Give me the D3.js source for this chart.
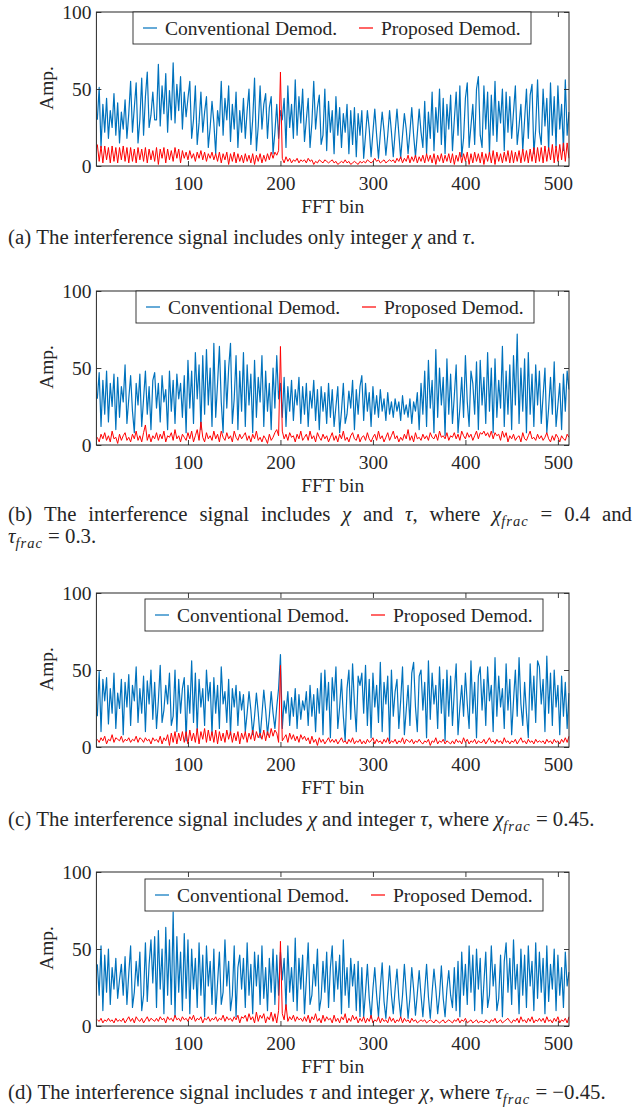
<!DOCTYPE html>
<html><head><meta charset="utf-8">
<script src="https://cdn.jsdelivr.net/npm/d3@7"></script>
<style>
body{margin:0;background:#fff}
svg text{font-family:"Liberation Serif","Times New Roman",serif;fill:#262626}
</style></head><body>
<svg id="chart" width="636" height="1111"></svg>
<script>
const bins = d3.range(2, 513, 2);
const xTicks = [100,200,300,400,500];
const yTicks = [0,50,100];
const seriesNames = ["Conventional Demod.","Proposed Demod."];
const xLabel = "FFT bin", yLabel = "Amp.";

const convA = [30,51,12,40,22,44,18,36,25,47,20,41,15,35,24,43, 18,34,55,22,38,54,15,30,57,20,45,61,25,33,48,30,
 30,66,26,52,34,60,22,49,30,67,28,53,36,58,24,48, 32,44,55,18,30,52,14,28,48,22,35,45,12,25,42,28,
 8,36,26,55,20,44,30,52,16,40,24,48,12,36,22,44, 18,36,50,14,30,57,10,26,52,24,40,47,18,38,45,8,
 22,40,18,36,30,44,12,52,25,40,18,56,20,45,28,50, 16,30,44,12,28,55,24,38,46,14,20,50,10,42,22,36,
 8,45,20,38,12,34,22,40,8,36,14,38,6,34,20,36, 5,20,36,24,6,22,37,20,5,21,35,23,7,20,36,22,
 6,22,37,21,5,20,34,24,8,22,38,20,6,21,37,22, 12,42,8,35,18,48,10,38,22,50,14,44,8,40,24,46,
 10,30,48,20,52,6,18,44,54,12,26,40,14,50,58,20, 12,52,24,48,8,46,20,55,16,42,28,50,10,48,22,45,
 18,35,52,14,26,40,10,30,50,18,46,53,8,24,56,22, 14,50,26,44,10,54,20,45,12,52,24,40,10,56,20,35];
const propA = [14,3,13,2,13,4,12,2,13,3,12,2,12,4,13,3, 12,2,12,3,11,2,12,4,11,3,12,2,11,4,10,3,
 12,1,11,5,12,2,11,4,10,3,12,5,11,2,10,5, 9,4,10,5,8,3,9,5,10,4,9,3,8,5,9,4,
 8,3,9,2,8,4,9,1,8,3,9,2,8,3,7,2, 8,3,7,2,8,1,7,3,8,2,7,3,8,4,9,5,
 9,7,10,61,5,2,6,3,5,2,4,3,5,2,4,3, 4,2,5,3,4,1,3,2,4,3,2,4,3,2,3,4,
 2,3,1,2,3,2,4,2,3,1,2,3,2,1,3,2, 3,2,4,3,2,3,5,3,4,2,3,4,2,3,4,3,
 4,2,5,3,6,2,5,3,7,2,6,3,7,2,6,3, 7,2,8,3,7,2,8,1,7,3,8,2,7,3,8,2,
 8,1,7,3,9,2,8,3,9,1,8,2,9,3,8,2, 9,1,8,3,9,2,10,1,9,3,8,2,9,3,10,2,
 10,2,9,3,10,2,11,3,10,2,11,3,12,2,12,3, 12,2,13,3,12,4,14,2,13,3,14,4,15,3,15,5];

const convB = [30,47,12,42,20,48,15,40,25,46,10,44,18,38,28,52, 14,30,45,22,8,40,26,46,12,30,48,20,38,10,42,47,
 24,40,15,45,28,36,10,48,22,42,14,46,30,40,18,45, 8,55,24,48,14,60,30,52,10,58,20,62,26,50,12,66,
 18,40,64,28,8,55,24,50,66,14,30,58,10,48,22,60, 12,52,26,46,8,55,18,44,28,58,12,48,22,40,10,50,
 24,58,30,40,18,44,12,38,22,42,16,36,26,44,14,38, 20,40,12,35,24,42,16,36,10,38,22,34,14,40,18,36,
 12,25,38,8,22,40,14,20,35,24,42,10,36,20,38,45, 16,40,22,34,12,38,20,32,18,36,22,30,16,34,20,28,
 18,30,22,28,16,32,20,26,18,30,14,28,22,34,10,40, 20,48,12,55,24,42,8,62,18,50,26,44,6,56,20,46,
 14,32,52,8,24,44,18,58,28,12,48,40,20,54,10,55, 26,44,14,60,22,50,8,56,18,42,24,64,12,48,20,52,
 10,58,26,72,14,50,22,56,8,60,20,46,12,52,26,48, 14,32,50,8,24,44,20,54,12,26,40,10,46,22,48,36];
const propB = [5,2,7,4,8,3,6,2,9,4,5,1,7,3,6,8, 3,5,2,7,4,9,3,6,2,8,13,3,7,2,6,4,
 8,3,7,4,9,2,6,5,8,3,10,4,6,2,7,5, 3,8,4,9,2,6,10,3,15,5,2,8,4,6,3,9,
 4,7,2,9,5,3,8,4,6,2,9,5,3,7,4,6, 8,3,6,2,7,4,9,3,5,2,6,4,1,7,3,5,
 8,10,6,64,9,4,7,3,8,5,6,2,7,4,9,3, 5,7,3,9,4,6,2,8,5,3,7,4,6,2,5,8,
 3,6,2,7,4,9,3,5,2,6,8,4,3,7,2,5, 6,3,8,4,2,5,7,3,9,4,6,2,5,8,3,6,
 9,4,6,2,5,3,7,4,10,3,6,2,8,4,5,3, 7,4,6,3,8,5,4,7,3,9,5,6,4,8,3,6,
 5,8,4,7,3,9,6,4,8,5,7,3,6,9,4,8, 7,9,6,8,5,9,4,8,6,7,3,9,5,8,2,6,
 4,7,3,5,6,2,8,4,3,6,9,4,5,3,7,4, 6,3,5,8,4,2,6,3,7,5,2,6,4,3,7,5];

const convC = [20,49,10,44,30,45,15,38,22,48,12,35,25,44,8,42, 26,47,14,40,30,52,16,38,22,46,10,43,28,50,18,42,
 12,30,53,16,24,40,28,48,14,20,50,10,44,22,38,45, 4,40,22,56,16,48,10,44,26,38,14,50,30,42,8,45,
 22,40,12,52,28,36,16,44,8,38,26,40,14,36,24,34, 10,22,36,24,8,20,35,22,6,21,37,24,8,20,36,22,
 12,26,38,60,12,30,22,36,14,32,20,38,12,34,18,30, 24,36,14,40,20,34,10,38,22,48,8,50,24,42,6,45,
 30,52,12,26,44,20,4,38,50,18,54,28,10,46,40,48, 22,53,14,44,6,48,26,40,16,55,10,42,28,46,4,50,
 20,36,44,12,30,52,8,24,40,14,48,55,26,10,46,50, 24,42,6,56,18,48,28,40,12,52,22,44,4,50,20,46,
 14,36,54,8,26,40,20,48,28,12,56,22,42,6,46,52, 24,44,14,52,30,40,10,58,20,46,26,38,12,54,24,44,
 8,30,50,20,58,28,14,42,22,6,54,24,46,16,56,52, 28,44,10,59,22,48,14,50,26,40,8,46,20,42,12,35];
const propC = [5,3,6,4,7,2,5,4,8,3,6,5,4,7,3,5, 4,6,3,5,4,7,3,6,5,3,6,4,5,2,6,4,
 5,3,7,2,6,4,8,1,9,3,10,2,9,4,10,3, 10,2,11,4,9,3,12,2,10,5,12,3,11,4,10,3,
 11,2,10,4,9,3,11,5,10,3,9,4,10,2,9,5, 10,3,9,5,11,4,10,6,9,5,11,4,10,6,12,7,
 11,9,3,53,4,6,8,3,9,5,8,4,7,3,8,5, 7,4,6,2,7,3,5,1,6,3,5,2,4,6,3,5,
 3,5,2,4,6,3,4,2,5,3,6,2,4,3,5,2, 4,2,5,3,4,6,2,5,3,4,2,5,3,6,2,4,
 3,5,2,4,3,6,2,5,4,3,5,2,4,3,5,3, 2,4,3,5,1,4,3,6,2,4,3,5,2,4,3,2,
 4,2,5,3,4,2,6,3,5,2,4,3,5,2,4,3, 3,5,2,4,6,3,4,2,5,3,4,2,6,3,4,2,
 4,3,5,2,4,6,3,4,2,5,3,4,2,5,3,4, 3,4,2,5,3,4,2,5,3,4,2,5,3,6,3,7];

const convD = [40,20,52,10,46,22,50,14,38,24,44,18,30,40,20,45, 14,34,52,12,22,42,26,48,10,20,54,16,40,56,28,58,
 12,62,24,50,8,64,20,56,14,74,6,58,22,48,10,60, 18,56,8,50,24,44,12,54,20,46,6,52,26,42,14,50,
 8,28,48,14,22,56,26,42,10,20,52,6,38,46,24,44, 12,54,20,40,8,48,26,46,14,52,18,38,10,44,22,50,
 14,46,20,48,30,44,12,52,22,38,16,57,10,44,24,46, 8,30,54,14,20,40,26,50,10,18,42,22,48,12,38,52,
 16,42,24,46,8,56,20,38,12,44,26,40,10,42,6,38, 6,22,40,18,5,24,38,20,6,25,41,16,5,22,39,20,
 8,24,37,18,6,20,40,22,5,18,38,24,7,21,36,20, 6,23,40,19,5,22,37,24,8,20,39,18,6,24,36,20,
 12,38,10,42,6,48,20,40,14,52,22,46,10,50,24,44, 8,28,48,12,20,52,26,40,10,18,46,6,42,54,22,44,
 14,56,24,40,8,50,20,46,12,52,26,42,10,54,18,48, 22,44,8,52,16,40,24,50,10,46,20,38,12,48,26,35];
const propD = [4,3,5,2,4,3,5,3,4,2,5,3,4,3,5,2, 4,6,3,5,2,6,4,3,5,2,4,6,3,5,4,3,
 5,3,6,4,5,2,6,4,5,3,7,4,5,3,6,4, 5,3,6,4,7,3,5,4,6,2,5,4,6,3,5,4,
 6,3,5,4,7,3,6,4,5,3,6,4,7,2,6,5, 7,3,8,4,6,2,9,3,7,5,8,2,6,4,9,3,
 8,2,10,55,8,4,14,3,6,4,7,3,6,4,5,3, 6,3,7,2,6,4,8,3,5,2,7,3,6,4,5,2,
 7,3,5,2,6,4,8,2,5,3,7,4,6,2,5,3, 6,2,5,3,7,2,4,3,6,2,5,3,4,2,6,3,
 5,2,4,3,6,2,5,3,4,2,5,3,4,2,3,4, 3,4,2,3,4,3,2,4,3,2,3,4,2,3,4,3,
 2,4,3,5,2,4,3,5,2,3,4,2,3,4,2,3, 3,2,4,3,2,4,3,5,2,3,4,2,3,4,5,3,
 2,4,3,5,2,6,3,4,2,5,3,6,2,4,3,5, 3,5,2,6,3,4,2,5,3,6,2,4,3,5,2,6];

const captionA = ["(a) The interference signal includes only integer χ and τ."];
const captionB = ["(b) The interference signal includes χ and τ, where χ_frac = 0.4 and", "τ_frac = 0.3."];
const captionC = ["(c) The interference signal includes χ and integer τ, where χ_frac = 0.45."];
const captionD = ["(d) The interference signal includes τ and integer χ, where τ_frac = −0.45."];

const panels = [
  {conv: convA, prop: propA, top: 12,  legX: 133, legY: 12,  cap: captionA, capY: [244], justify: []},
  {conv: convB, prop: propB, top: 291, legX: 136, legY: 291, cap: captionB, capY: [521, 543], justify: [true,false]},
  {conv: convC, prop: propC, top: 593, legX: 145, legY: 599, cap: captionC, capY: [826], justify: []},
  {conv: convD, prop: propD, top: 872, legX: 145, legY: 879, cap: captionD, capY: [1099], justify: []}
];

const svg = d3.select("#chart");
svg.append("rect").attr("width",636).attr("height",1111).attr("fill","#fff");
const AX = "#262626", BLUE = "#0072BD", RED = "#FF0000";
const L = 96.4, R = 569, H = 154, FS = 19.5;

panels.forEach((p, pi) => {
  const x = d3.scaleLinear().domain([1,512]).range([L,R]);
  const y = d3.scaleLinear().domain([0,100]).range([p.top+H, p.top]);
  const g = svg.append("g");
  const cid = "clip"+pi;
  g.append("clipPath").attr("id",cid).append("rect")
    .attr("x",L-0.5).attr("y",p.top).attr("width",R-L+1).attr("height",H);
  const line = d3.line().x((d,i)=>x(bins[i])).y(d=>y(d)).defined((d,i)=>i<bins.length);
  const pg = g.append("g").attr("clip-path",`url(#${cid})`);
  pg.append("path").datum(p.conv).attr("d",line).attr("fill","none")
    .attr("stroke",BLUE).attr("stroke-width",1.2).attr("stroke-linejoin","round");
  pg.append("path").datum(p.prop).attr("d",line).attr("fill","none")
    .attr("stroke",RED).attr("stroke-width",1.0).attr("stroke-linejoin","round");

  const bx = g.append("g").attr("transform",`translate(0,${p.top+H})`)
    .call(d3.axisBottom(x).tickValues(xTicks).tickSizeInner(-5).tickSizeOuter(0).tickPadding(10));
  const tx = g.append("g").attr("transform",`translate(0,${p.top})`)
    .call(d3.axisTop(x).tickValues(xTicks).tickSizeInner(-5).tickSizeOuter(0).tickFormat(""));
  const ly = g.append("g").attr("transform",`translate(${L},0)`)
    .call(d3.axisLeft(y).tickValues(yTicks).tickSizeInner(-5).tickSizeOuter(0).tickPadding(5));
  const ry = g.append("g").attr("transform",`translate(${R},0)`)
    .call(d3.axisRight(y).tickValues(yTicks).tickSizeInner(-5).tickSizeOuter(0).tickFormat(""));
  [bx,tx,ly,ry].forEach(a=>{
    a.select(".domain").remove();
    a.selectAll("line").attr("stroke",AX).attr("stroke-width",0.9);
    a.selectAll("text").attr("font-size",FS).attr("fill",AX)
      .style("font-family",'"Liberation Serif",serif');
  });
  g.append("rect").attr("x",L).attr("y",p.top).attr("width",R-L).attr("height",H)
    .attr("fill","none").attr("stroke",AX).attr("stroke-width",1);

  g.append("text").attr("x",(L+R)/2).attr("y",p.top+H+47).attr("text-anchor","middle")
    .attr("font-size",FS).text(xLabel);
  g.append("text").attr("transform",`translate(53,${p.top+76}) rotate(-90)`)
    .attr("text-anchor","middle").attr("font-size",FS).text(yLabel);

  const lg = g.append("g");
  lg.append("rect").attr("x",p.legX).attr("y",p.legY).attr("width",398).attr("height",32)
    .attr("fill","#fff").attr("stroke",AX).attr("stroke-width",0.9);
  const cols = [BLUE, RED], offs = [10, 226];
  seriesNames.forEach((n,k)=>{
    lg.append("line").attr("x1",p.legX+offs[k]).attr("x2",p.legX+offs[k]+14)
      .attr("y1",p.legY+16).attr("y2",p.legY+16).attr("stroke",cols[k]).attr("stroke-width",1.2);
    lg.append("text").attr("x",p.legX+offs[k]+22).attr("y",p.legY+23)
      .attr("font-size",FS).attr("fill","#000").text(n);
  });

  p.cap.forEach((ln, li) => drawCaption(ln, 8, p.capY[li], !!p.justify[li], 632));
});

function drawCaption(str, x0, yb, justify, right) {
  const fs = 20.8;
  const words = str.split(" ");
  const els = words.map(w => {
    const t = svg.append("text").attr("y", yb).attr("font-size", fs).attr("fill","#000");
    let base = w, sub = null;
    const ui = w.indexOf("_");
    if (ui >= 0) { base = w.slice(0, ui); sub = w.slice(ui+1); }
    const runs = base.match(/[χτ]+|[^χτ]+/g) || [];
    runs.forEach(r => {
      const ts = t.append("tspan").text(r);
      if (/[χτ]/.test(r)) ts.attr("font-style","italic");
    });
    if (sub) {
      t.append("tspan").text(sub).attr("font-style","italic")
        .attr("font-size", fs*0.7).attr("dy", 5).attr("letter-spacing", 1);
    }
    return t;
  });
  const widths = els.map(e => e.node().getComputedTextLength());
  const sum = d3.sum(widths);
  const gap = justify ? (right - x0 - sum) / (els.length - 1) : fs * 0.25;
  let cx = x0;
  els.forEach((e, i) => { e.attr("x", cx); cx += widths[i] + gap; });
}
</script>
</body></html>
